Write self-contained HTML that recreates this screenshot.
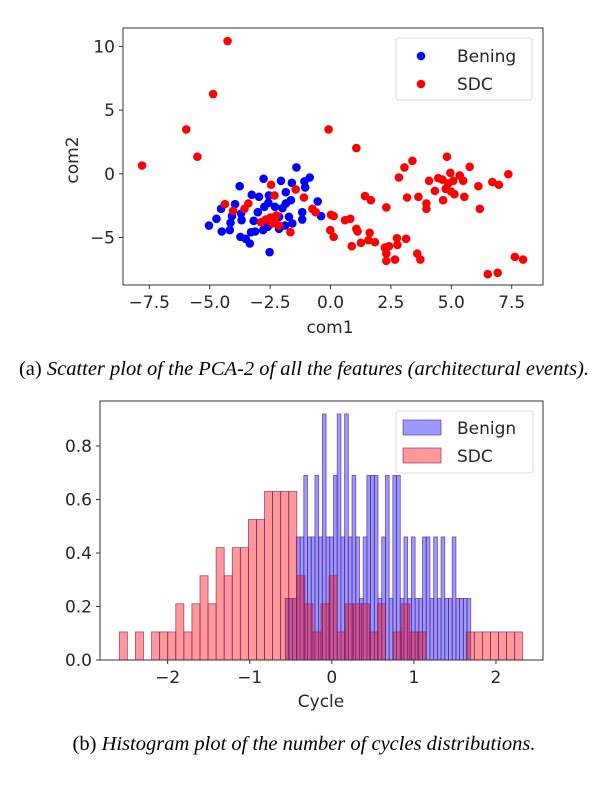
<!DOCTYPE html>
<html><head><meta charset="utf-8"><style>
html,body{margin:0;padding:0;background:#fff;}
body{width:608px;height:782px;overflow:hidden;}
svg text{font-family:"DejaVu Sans","Liberation Sans",sans-serif;fill:#262626;}
.cap{font-family:"Liberation Serif",serif;font-size:20.5px;fill:#000;}
</style></head><body>
<svg id="chart" width="608" height="782" viewBox="0 0 608 782" xmlns="http://www.w3.org/2000/svg">
<g id="scatter"></g>
<g id="hist"></g>
<text class="cap" x="304" y="375" text-anchor="middle">(a) <tspan font-style="italic">Scatter plot of the PCA-2 of all the features (architectural events).</tspan></text>
<text class="cap" x="304" y="750" text-anchor="middle">(b) <tspan font-style="italic">Histogram plot of the number of cycles distributions.</tspan></text>
</svg>
<script>
const NS="http://www.w3.org/2000/svg";
// ---- scatter data ----
const sdcX=[-4.26,-4.86,-5.97,-5.51,-7.8,-0.08,1.07,4.82,3.39,3.06,2.83,5.76,7.36,4.96,5.35,4.08,4.46,4.63,5.08,4.87,5.49,6.12,6.7,6.97,4.32,4.77,5.13,4.66,5.54,4.99,3.17,3.64,3.97,3.97,6.18,1.43,1.67,2.31,-2.46,-1.44,-2.32,-1.1,-0.75,-0.61,0.02,0.13,0.6,0.82,-0.01,0.13,1.07,1.12,0.88,1.26,1.57,1.62,1.84,2.25,2.42,2.75,3.13,2.77,2.31,2.67,2.31,3.59,3.72,6.51,6.92,7.63,7.97,-4.37,-4.03,-3.56,-3.4,-2.88,-2.68,-2.49,-2.32,-2.24,-2.41,-1.66,-2.13];
const sdcY=[10.42,6.26,3.48,1.34,0.65,3.48,2.02,1.34,1.02,0.5,-0.29,0.55,-0.03,0.08,-0.13,-0.55,-0.34,-0.45,-0.55,-0.76,-0.55,-0.97,-0.65,-0.86,-1.34,-1.18,-1.6,-2.07,-1.81,-1.39,-1.86,-1.81,-2.33,-2.75,-2.75,-1.75,-2.07,-2.64,-0.86,-1.23,-1.7,-1.86,-2.75,-3.01,-3.22,-3.32,-3.64,-3.53,-4.42,-4.95,-4.32,-4.53,-5.68,-5.42,-5.21,-4.63,-5.37,-5.79,-5.68,-5.05,-5.1,-5.58,-6.26,-6.73,-6.83,-6.26,-6.73,-7.88,-7.77,-6.52,-6.73,-2.38,-2.91,-2.75,-2.33,-3.8,-3.59,-3.43,-3.64,-3.27,-3.9,-4.58,-4.06];
const benX=[-1.41,-2.77,-2.05,-1.6,-0.86,-1.08,-3.76,-1.05,-1.85,-3.26,-2.96,-0.53,-1.64,-2.55,-3.95,-4.53,-4.72,-5.03,-4.5,-4.17,-4.14,-3.68,-3.7,-3.73,-3.51,-3.34,-3.12,-2.79,-3.01,-2.74,-2.57,-1.99,-1.85,-1.72,-1.88,-2.13,-1.17,-1.17,-0.39,-2.52,-3.18,-4.08,-2.3,-2.13,-1.58,-2.6,-3.29];
const benY=[0.5,-0.39,-0.55,-0.71,-0.29,-0.6,-0.97,-1.07,-1.44,-1.65,-1.81,-2.17,-2.07,-1.7,-2.38,-2.75,-3.53,-4.06,-4.53,-4.42,-3.85,-3.64,-3.12,-4.95,-5.1,-5.47,-4.53,-4.42,-3.01,-2.59,-2.28,-2.7,-2.33,-3.38,-4.06,-4.32,-3.01,-3.59,-3.32,-6.15,-3.69,-3.32,-2.59,-3.38,-3.9,-4.16,-4.58];
const sxTicks=[-7.5,-5.0,-2.5,0.0,2.5,5.0,7.5];
const syTicks=[10,5,0,-5];
// ---- histogram data ----
const sdcStart=-2.589, sdcWidth=0.0983;
const sdcCounts=[1,0,1,0,1,1,1,2,1,2,3,2,4,3,4,4,5,5,6,6,6,6,3,2,1,2,3,1,2,2,2,1,2,0,1,2,1,1,0,0,0,0,0,1,1,1,1,1,1,1];
const sdcUnit=0.105;
const benStart=-0.567, benWidth=0.0452;
const benCounts=[1,1,1,2,2,3,2,2,3,2,4,2,2,3,4,2,4,2,3,2,1,2,3,3,3,1,2,3,1,3,3,1,2,1,2,1,1,2,2,1,2,1,2,1,1,2,1,1,1,1];
const benUnit=0.23;
const hxTicks=[-2,-1,0,1,2];
const hyTicks=[0.0,0.2,0.4,0.6,0.8];

function el(tag,attrs,parent,text){const e=document.createElementNS(NS,tag);for(const k in attrs)e.setAttribute(k,attrs[k]);if(text!==undefined)e.textContent=text;parent.appendChild(e);return e;}

const FS='17';
// scatter axes
const S={l:123,r:543,t:28,b:285};
const sx=v=>330.5+v*24.16, sy=v=>173.8-v*12.74;
const sg=document.getElementById('scatter');
for(let i=0;i<benX.length;i++){const c=el('circle',{cx:sx(benX[i]),cy:sy(benY[i]),r:4.3,fill:'#0000ff'},sg);

}
for(let i=0;i<sdcX.length;i++){const c=el('circle',{cx:sx(sdcX[i]),cy:sy(sdcY[i]),r:4.3,fill:'#ff0000'},sg);

}
el('rect',{x:S.l,y:S.t,width:S.r-S.l,height:S.b-S.t,fill:'none',stroke:'#333','stroke-width':1},sg);
sxTicks.forEach(t=>{const x=sx(t);el('line',{x1:x,x2:x,y1:S.b,y2:S.b+4,stroke:'#333'},sg);
const tx=el('text',{x:x,y:S.b+23,'text-anchor':'middle','font-size':FS},sg,(t<0?'\u2212':'')+Math.abs(t).toFixed(1));

});
syTicks.forEach(t=>{const y=sy(t);el('line',{x1:S.l-4,x2:S.l,y1:y,y2:y,stroke:'#333'},sg);
const tx=el('text',{x:S.l-8,y:y+6,'text-anchor':'end','font-size':FS},sg,(t<0?'\u2212':'')+Math.abs(t));

});
let t1=el('text',{x:330,y:333,'text-anchor':'middle','font-size':FS},sg,'com1');


let t2=el('text',{x:78,y:160,'text-anchor':'middle','font-size':FS,transform:'rotate(-90 78 160)'},sg,'com2');


let lg=el('g',{},sg);


el('rect',{x:396,y:38,width:136,height:62,rx:3,fill:'#fff',stroke:'#ddd'},lg);
el('circle',{cx:421,cy:56,r:4.3,fill:'#0000ff'},lg);
el('text',{x:457,y:62,'font-size':FS},lg,'Bening');
el('circle',{cx:421,cy:84,r:4.3,fill:'#ff0000'},lg);
el('text',{x:457,y:90,'font-size':FS},lg,'SDC');

// histogram
const H={l:100,r:543,t:401,b:660};
const hx=v=>331.8+v*82.08, hy=v=>660-v*267.5;
const hg=document.getElementById('hist');
benCounts.forEach((c,i)=>{if(!c)return;const x0=hx(benStart+i*benWidth),x1=hx(benStart+(i+1)*benWidth);
const r=el('rect',{x:x0,y:hy(c*benUnit),width:x1-x0,height:hy(0)-hy(c*benUnit),fill:'rgba(0,0,255,0.4)',stroke:'rgba(90,30,130,0.75)','stroke-width':0.8},hg);

});
sdcCounts.forEach((c,i)=>{if(!c)return;const x0=hx(sdcStart+i*sdcWidth),x1=hx(sdcStart+(i+1)*sdcWidth);
const r=el('rect',{x:x0,y:hy(c*sdcUnit),width:x1-x0,height:hy(0)-hy(c*sdcUnit),fill:'rgba(255,0,0,0.4)',stroke:'rgba(120,30,110,0.75)','stroke-width':0.8},hg);

});
el('rect',{x:H.l,y:H.t,width:H.r-H.l,height:H.b-H.t,fill:'none',stroke:'#333','stroke-width':1},hg);
hxTicks.forEach(t=>{const x=hx(t);el('line',{x1:x,x2:x,y1:H.b,y2:H.b+4,stroke:'#333'},hg);
const tx=el('text',{x:x,y:H.b+23,'text-anchor':'middle','font-size':FS},hg,(t<0?'\u2212':'')+Math.abs(t));

});
hyTicks.forEach(t=>{const y=hy(t);el('line',{x1:H.l-4,x2:H.l,y1:y,y2:y,stroke:'#333'},hg);
const tx=el('text',{x:H.l-8,y:y+6,'text-anchor':'end','font-size':FS},hg,t.toFixed(1));

});
let t3=el('text',{x:321,y:707,'text-anchor':'middle','font-size':FS},hg,'Cycle');


let lg2=el('g',{},hg);


el('rect',{x:396,y:411,width:137,height:62,rx:3,fill:'#fff',stroke:'#ddd'},lg2);
el('rect',{x:403,y:420,width:38,height:15,fill:'rgba(0,0,255,0.4)',stroke:'rgba(90,30,130,0.75)','stroke-width':0.8},lg2);
el('text',{x:457,y:434,'font-size':FS},lg2,'Benign');
el('rect',{x:403,y:448,width:38,height:15,fill:'rgba(255,0,0,0.4)',stroke:'rgba(120,30,110,0.75)','stroke-width':0.8},lg2);
el('text',{x:457,y:462,'font-size':FS},lg2,'SDC');
</script>
</body></html>
